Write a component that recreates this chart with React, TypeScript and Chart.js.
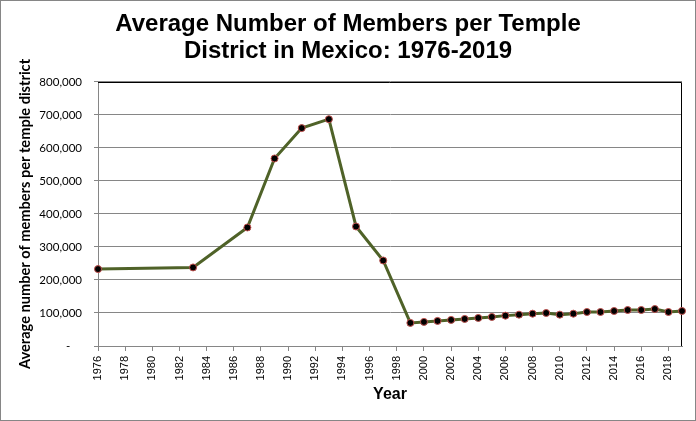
import { useEffect, useRef } from 'react';
import { Chart, registerables } from 'chart.js';

Chart.register(...registerables);

const YEARS = [1976, 1983, 1987, 1989, 1991, 1993, 1995, 1997, 1999, 2000, 2001, 2002, 2003, 2004, 2005, 2006, 2007, 2008, 2009, 2010, 2011, 2012, 2013, 2014, 2015, 2016, 2017, 2018, 2019];
const MEMBERS = [233000, 238000, 359000, 568000, 660000, 687000, 362000, 259000, 70000, 73000, 76000, 79000, 82000, 85000, 88000, 92000, 95000, 98000, 100000, 95000, 98000, 103000, 103000, 106000, 109000, 109000, 112000, 103000, 106000];
const X_TICKS = [1976, 1978, 1980, 1982, 1984, 1986, 1988, 1990, 1992, 1994, 1996, 1998, 2000, 2002, 2004, 2006, 2008, 2010, 2012, 2014, 2016, 2018];
const Y_TICKS = [0, 100000, 200000, 300000, 400000, 500000, 600000, 700000, 800000];

const TITLE = ['Average Number of Members per Temple', 'District in Mexico: 1976-2019'];
const GRID = '#868686';
const ARIAL = "'Liberation Sans', Arial, sans-serif";
const CALIBRI = "Lato, 'Noto Sans', sans-serif";

// plot area top/right edge in black, outer chart border in gray
const frame = {
  id: 'frame',
  beforeDatasetsDraw(chart: any) {
    const { ctx, chartArea: a } = chart;
    const t = Math.round(a.top) + 0.5;
    const r = Math.round(a.right) - 0.5;
    ctx.save();
    ctx.strokeStyle = '#000';
    ctx.lineWidth = 1;
    ctx.beginPath();
    ctx.moveTo(a.left, t);
    ctx.lineTo(r, t);
    ctx.lineTo(r, a.bottom);
    ctx.stroke();
    ctx.restore();
  },
  afterDraw(chart: any) {
    const { ctx, width, height } = chart;
    ctx.save();
    ctx.strokeStyle = GRID;
    ctx.lineWidth = 1;
    ctx.strokeRect(0.5, 0.5, width - 1, height - 1);
    ctx.restore();
  },
};

export default function App() {
  const ref = useRef<HTMLCanvasElement>(null);
  const ci = useRef<Chart | null>(null);

  useEffect(() => {
    if (!ref.current) return;
    ci.current?.destroy();
    ci.current = new Chart(ref.current, {
      type: 'line',
      data: {
        datasets: [{
          label: 'Members',
          data: YEARS.map((y, i) => ({ x: y, y: MEMBERS[i] })),
          borderColor: '#4f6228',
          borderWidth: 3,
          tension: 0,
          pointRadius: 3.5,
          pointBackgroundColor: '#000',
          pointBorderColor: '#c0504d',
          pointBorderWidth: 1,
          clip: false as any,
        }],
      },
      options: {
        responsive: false,
        animation: false,
        layout: { padding: { left: 14, right: 14, top: 0, bottom: 13 } },
        plugins: {
          legend: { display: false },
          tooltip: { enabled: false },
          title: {
            display: true, text: TITLE, color: '#000',
            font: { family: ARIAL, size: 24, weight: 'bold', lineHeight: 1.11 },
            padding: { top: 11.5, bottom: 17.1 },
          },
        },
        scales: {
          x: {
            type: 'linear', min: 1976, max: 2019,
            afterBuildTicks: (s: any) => { s.ticks = X_TICKS.map(value => ({ value })); },
            afterFit: (s: any) => { s.height = 62; },
            grid: { drawOnChartArea: false, color: GRID, tickLength: 5 },
            border: { color: GRID },
            ticks: { autoSkip: false, minRotation: 90, maxRotation: 90, padding: 5, color: '#000', font: { family: ARIAL, size: 11 }, callback: (v: any) => String(v) },
            title: { display: true, text: 'Year', color: '#000', font: { family: ARIAL, size: 16, weight: 'bold', lineHeight: 1.2 }, padding: { top: 0, bottom: 4 } },
          },
          y: {
            min: 0, max: 800000,
            afterBuildTicks: (s: any) => { s.ticks = Y_TICKS.map(value => ({ value })); },
            afterFit: (s: any) => { s.width = 84; },
            grid: { color: GRID, tickLength: 4 },
            border: { color: GRID },
            ticks: { padding: 12, color: '#000', font: { family: CALIBRI, size: 11.5 }, callback: (v: any) => v === 0 ? '-    ' : Number(v).toLocaleString('en-US') },
            title: { display: true, text: 'Average number of members per temple district', color: '#000', font: { family: CALIBRI, size: 14.6, weight: 'bold', lineHeight: 1.2 }, padding: { top: 2.2, bottom: 0 } },
          },
        },
      },
      plugins: [frame],
    });
    return () => { ci.current?.destroy(); ci.current = null; };
  }, []);

  return (
    <div style={{ position: 'absolute', left: 0, top: 0, width: 696, height: 421, background: '#fff' }}>
      <canvas ref={ref} width={696} height={421} />
    </div>
  );
}
